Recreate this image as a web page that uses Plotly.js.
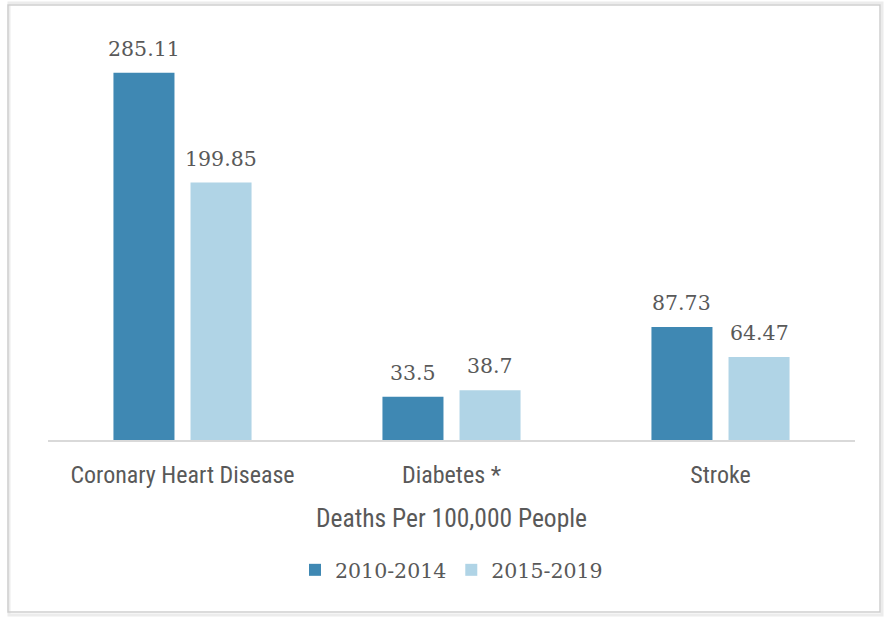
<!DOCTYPE html>
<html>
<head>
<meta charset="utf-8">
<script src="https://cdn.plot.ly/plotly-3.0.1.min.js"></script>
<style>
  html, body { margin: 0; padding: 0; background: #ffffff; }
  #chart { width: 885px; height: 617px; }
</style>
</head>
<body>
<div id="chart"></div>
<script>
const categories = ["Coronary Heart Disease", "Diabetes *", "Stroke"];
const seriesNames = ["2010-2014", "2015-2019"];
const values2010 = [285.11, 33.5, 87.73];
const values2015 = [199.85, 38.7, 64.47];
const valueLabels2010 = ["285.11", "33.5", "87.73"];
const valueLabels2015 = ["199.85", "38.7", "64.47"];

const darkBlue = "#3f88b3";
const lightBlue = "#b0d4e6";
const textGray = "#595959";
const serifFont = "'DejaVu Serif', 'Liberation Serif', serif";
const narrowFont = "'Liberation Sans Narrow', 'Roboto Condensed', 'Liberation Sans', sans-serif";

const L = 48, R = 30, T = 20, B = 177;
const W = 885, H = 617;
const pw = W - L - R, ph = H - T - B;
function px2x(p) { return (p - L) / pw; }
function px2y(p) { return (H - B - p) / ph; }

const bargap = 0.427;
const bargroupgap = 0.208;
const catWidthPx = pw / categories.length;
const slotPx = catWidthPx * (1 - bargap) / 2;

const traces = [
  {
    type: "bar", name: seriesNames[0], x: categories, y: values2010,
    marker: { color: darkBlue }, hoverinfo: "none"
  },
  {
    type: "bar", name: seriesNames[1], x: categories, y: values2015,
    marker: { color: lightBlue }, hoverinfo: "none"
  }
];

const annotations = [];
[[values2010, valueLabels2010, -1], [values2015, valueLabels2015, 1]].forEach(function (s) {
  s[0].forEach(function (v, i) {
    annotations.push({
      x: categories[i], y: v, xref: "x", yref: "y",
      text: s[1][i], showarrow: false,
      xanchor: "center", yanchor: "bottom",
      xshift: s[2] * slotPx / 2, yshift: 10,
      font: { family: serifFont, size: 20.5, color: textGray }
    });
  });
});

const layout = {
  width: W, height: H,
  margin: { l: L, r: R, t: T, b: B },
  paper_bgcolor: "#ffffff",
  plot_bgcolor: "#ffffff",
  barmode: "group",
  bargap: bargap,
  bargroupgap: bargroupgap,
  showlegend: true,
  legend: {
    orientation: "h",
    x: 0.5, xanchor: "center",
    y: px2y(570), yanchor: "middle",
    font: { family: serifFont, size: 20.5, color: textGray },
    itemwidth: 30,
    traceorder: "normal"
  },
  xaxis: {
    type: "category",
    showline: true, linecolor: "#d9d9d9", linewidth: 2,
    ticks: "", showgrid: false, zeroline: false,
    ticklabelstandoff: 12,
    tickfont: { family: narrowFont, size: 24, color: textGray },
    title: {
      text: "Deaths Per 100,000 People",
      font: { family: narrowFont, size: 25.5, color: textGray },
      standoff: 21
    },
    fixedrange: true
  },
  yaxis: {
    range: [0, 326],
    visible: false,
    showgrid: false, zeroline: false,
    fixedrange: true
  },
  annotations: annotations,
  shapes: [
    { type: "rect", xref: "paper", yref: "paper",
      x0: px2x(9), x1: px2x(882), y0: px2y(615), y1: px2y(3),
      line: { color: "#ececec", width: 3 }, fillcolor: "rgba(0,0,0,0)", layer: "below" },
    { type: "rect", xref: "paper", yref: "paper",
      x0: px2x(8), x1: px2x(880), y0: px2y(612), y1: px2y(5),
      line: { color: "#cfcfcf", width: 1.5 }, fillcolor: "rgba(0,0,0,0)", layer: "below" }
  ]
};

Plotly.newPlot("chart", traces, layout, { displayModeBar: false, staticPlot: true });
</script>
</body>
</html>
